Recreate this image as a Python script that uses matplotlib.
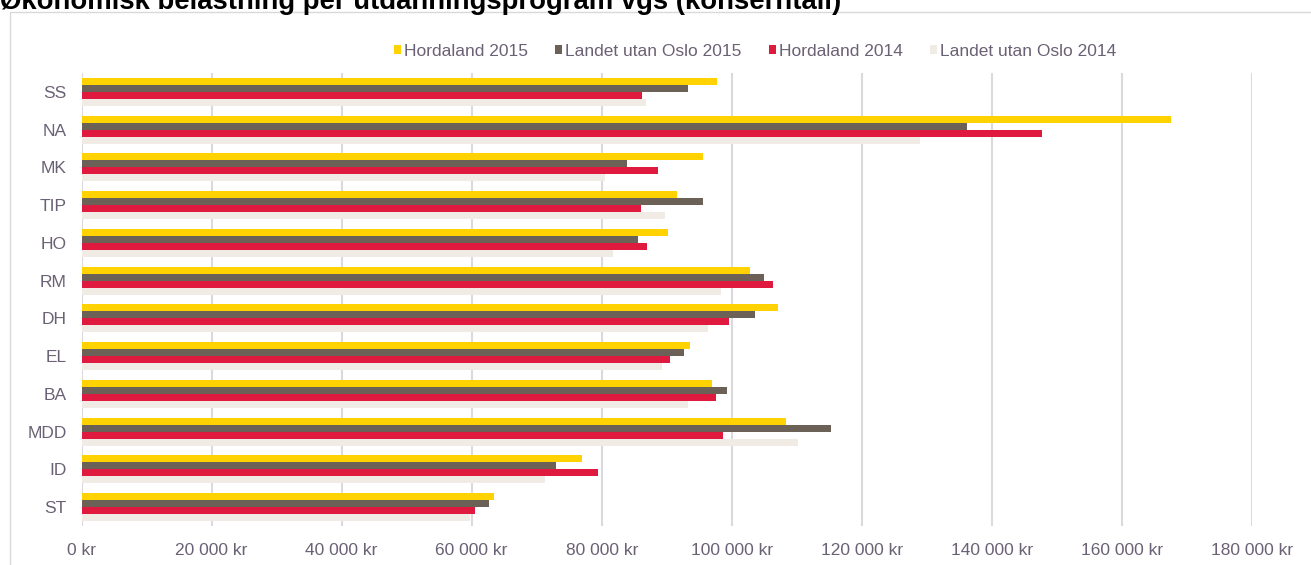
import matplotlib
matplotlib.use("Agg")
import matplotlib.pyplot as plt
from matplotlib.patches import Rectangle
import numpy as np

plt.rcParams["font.family"] = ["Liberation Sans", "DejaVu Sans"]

# Data (kr per elev)
programs = ["SS", "NA", "MK", "TIP", "HO", "RM", "DH", "EL", "BA", "MDD", "ID", "ST"]
hordaland_2015 = [97800, 167600, 95600, 91500, 90200, 102800, 107100, 93500, 97000, 108400, 77000, 63400]
landet_2015 = [93300, 136100, 83900, 95500, 85600, 105000, 103500, 92700, 99300, 115300, 72900, 62600]
hordaland_2014 = [86200, 147700, 88700, 86100, 87000, 106400, 99600, 90500, 97600, 98700, 79400, 60500]
landet_2014 = [86800, 129000, 80500, 89800, 81800, 98300, 96400, 89200, 93200, 110200, 71300, 59800]

series_names = ["Hordaland 2015", "Landet utan Oslo 2015", "Hordaland 2014", "Landet utan Oslo 2014"]
series_values = [hordaland_2015, landet_2015, hordaland_2014, landet_2014]
colors = ["#FFD200", "#6B6157", "#E0193F", "#F0ECE5"]

x_ticks = [0, 20000, 40000, 60000, 80000, 100000, 120000, 140000, 160000, 180000]
x_labels = ["0 kr", "20 000 kr", "40 000 kr", "60 000 kr", "80 000 kr", "100 000 kr",
            "120 000 kr", "140 000 kr", "160 000 kr", "180 000 kr"]

text_color = "#6B6175"
grid_color = "#DCD8DE"

fig = plt.figure(figsize=(13.11, 5.65), dpi=100)

# outer chart frame (cut off to the right and bottom)
fig.patches.append(Rectangle((9.5 / 1311, -0.1), 1.2, 1 - 12 / 565 + 0.1,
                             transform=fig.transFigure, fill=False,
                             edgecolor="#D9D9D9", linewidth=1.0))

# title sits partly above the picture, as in the source screenshot
fig.text(0.0, 1 - 9 / 565, "Økonomisk belastning per utdanningsprogram vgs (konserntall)",
         fontsize=19.8, fontweight="bold", color="#000000", va="baseline", ha="left")

ax = fig.add_axes([81.5 / 1311, 1 - 526 / 565, (1252 - 81.5) / 1311, (526 - 73) / 565])

y = np.arange(len(programs))
h = 0.185
offsets = [-1.5 * h, -0.5 * h, 0.5 * h, 1.5 * h]
for name, vals, col, off in zip(series_names, series_values, colors, offsets):
    ax.barh(y + off, vals, height=h, color=col, label=name, zorder=3)

ax.set_ylim(len(programs) - 0.5, -0.5)
ax.set_xlim(0, 180000)
ax.set_yticks(y)
ax.set_yticklabels(programs)
ax.set_xticks(x_ticks)
ax.set_xticklabels(x_labels)
ax.tick_params(axis="both", length=0, labelsize=12.5, colors=text_color)
ax.tick_params(axis="y", pad=10.5)
ax.tick_params(axis="x", pad=12)

ax.grid(axis="x", color=grid_color, linewidth=1.5, zorder=0)
for s in ax.spines.values():
    s.set_visible(False)

leg = fig.legend(loc="center", bbox_to_anchor=(755 / 1311, 1 - 51 / 565), ncol=4,
                 frameon=False, fontsize=12.5, handlelength=0.4, handleheight=0.4,
                 handletextpad=0.15, columnspacing=1.6)
for t in leg.get_texts():
    t.set_color(text_color)

fig.savefig("out.png", dpi=100, facecolor="white")
